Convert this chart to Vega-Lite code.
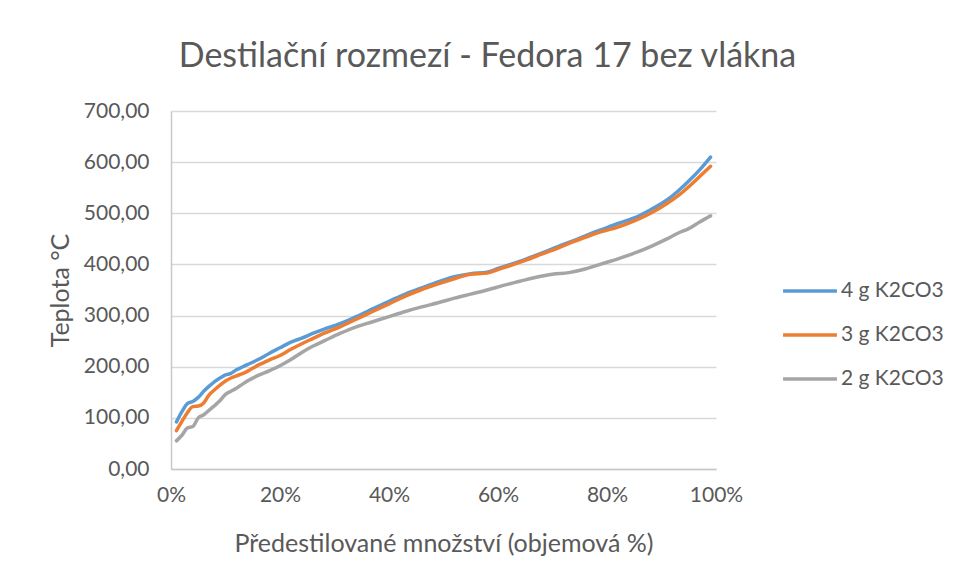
{
  "$schema": "https://vega.github.io/schema/vega-lite/v6.json",
  "autosize": {"type": "none"},
  "width": 545,
  "height": 358,
  "padding": {"left": 171, "top": 111, "right": 242, "bottom": 112},
  "background": "white",
  "title": {
    "text": "Destilační rozmezí - Fedora 17 bez vlákna",
    "font": "Lato",
    "fontSize": 34,
    "fontWeight": "normal",
    "color": "#595959",
    "anchor": "middle",
    "dx": 44,
    "offset": 26
  },
  "config": {
    "view": {"stroke": null},
    "axis": {
      "labelFont": "Lato",
      "titleFont": "Lato",
      "labelColor": "#595959",
      "titleColor": "#595959",
      "labelFontSize": 21,
      "titleFontSize": 25,
      "titleFontWeight": "normal",
      "labelFlush": false,
      "ticks": false,
      "gridColor": "#d9d9d9",
      "gridWidth": 1.5,
      "domainColor": "#c8c8c8",
      "domainWidth": 1.5
    },
    "legend": {
      "labelFont": "Lato",
      "labelFontSize": 21,
      "labelColor": "#595959"
    }
  },
  "data": {
    "values": [
      {"x": 1, "t": 92, "s": "4 g K2CO3"},
      {"x": 2, "t": 112, "s": "4 g K2CO3"},
      {"x": 3, "t": 128, "s": "4 g K2CO3"},
      {"x": 4, "t": 132, "s": "4 g K2CO3"},
      {"x": 5, "t": 140, "s": "4 g K2CO3"},
      {"x": 6, "t": 152, "s": "4 g K2CO3"},
      {"x": 7, "t": 162, "s": "4 g K2CO3"},
      {"x": 8, "t": 171, "s": "4 g K2CO3"},
      {"x": 9, "t": 178, "s": "4 g K2CO3"},
      {"x": 10, "t": 184, "s": "4 g K2CO3"},
      {"x": 11, "t": 187, "s": "4 g K2CO3"},
      {"x": 12, "t": 194, "s": "4 g K2CO3"},
      {"x": 13, "t": 199, "s": "4 g K2CO3"},
      {"x": 14, "t": 204, "s": "4 g K2CO3"},
      {"x": 16, "t": 214, "s": "4 g K2CO3"},
      {"x": 18, "t": 226, "s": "4 g K2CO3"},
      {"x": 20, "t": 237, "s": "4 g K2CO3"},
      {"x": 22, "t": 248, "s": "4 g K2CO3"},
      {"x": 24, "t": 256, "s": "4 g K2CO3"},
      {"x": 26, "t": 265, "s": "4 g K2CO3"},
      {"x": 28, "t": 273, "s": "4 g K2CO3"},
      {"x": 31, "t": 284, "s": "4 g K2CO3"},
      {"x": 34, "t": 298, "s": "4 g K2CO3"},
      {"x": 37, "t": 313, "s": "4 g K2CO3"},
      {"x": 40, "t": 328, "s": "4 g K2CO3"},
      {"x": 43, "t": 342, "s": "4 g K2CO3"},
      {"x": 46, "t": 354, "s": "4 g K2CO3"},
      {"x": 49, "t": 366, "s": "4 g K2CO3"},
      {"x": 52, "t": 376, "s": "4 g K2CO3"},
      {"x": 55, "t": 382, "s": "4 g K2CO3"},
      {"x": 58, "t": 385, "s": "4 g K2CO3"},
      {"x": 60, "t": 392, "s": "4 g K2CO3"},
      {"x": 62, "t": 399, "s": "4 g K2CO3"},
      {"x": 65, "t": 410, "s": "4 g K2CO3"},
      {"x": 68, "t": 422, "s": "4 g K2CO3"},
      {"x": 71, "t": 435, "s": "4 g K2CO3"},
      {"x": 74, "t": 447, "s": "4 g K2CO3"},
      {"x": 77, "t": 460, "s": "4 g K2CO3"},
      {"x": 79, "t": 468, "s": "4 g K2CO3"},
      {"x": 82, "t": 480, "s": "4 g K2CO3"},
      {"x": 85, "t": 491, "s": "4 g K2CO3"},
      {"x": 88, "t": 507, "s": "4 g K2CO3"},
      {"x": 91, "t": 526, "s": "4 g K2CO3"},
      {"x": 93, "t": 543, "s": "4 g K2CO3"},
      {"x": 95, "t": 563, "s": "4 g K2CO3"},
      {"x": 97, "t": 585, "s": "4 g K2CO3"},
      {"x": 99, "t": 610, "s": "4 g K2CO3"},
      {"x": 1, "t": 75, "s": "3 g K2CO3"},
      {"x": 2, "t": 93, "s": "3 g K2CO3"},
      {"x": 3, "t": 110, "s": "3 g K2CO3"},
      {"x": 4, "t": 122, "s": "3 g K2CO3"},
      {"x": 5, "t": 123, "s": "3 g K2CO3"},
      {"x": 6, "t": 129, "s": "3 g K2CO3"},
      {"x": 7, "t": 145, "s": "3 g K2CO3"},
      {"x": 8, "t": 155, "s": "3 g K2CO3"},
      {"x": 9, "t": 164, "s": "3 g K2CO3"},
      {"x": 10, "t": 172, "s": "3 g K2CO3"},
      {"x": 11, "t": 178, "s": "3 g K2CO3"},
      {"x": 12, "t": 182, "s": "3 g K2CO3"},
      {"x": 13, "t": 186, "s": "3 g K2CO3"},
      {"x": 14, "t": 191, "s": "3 g K2CO3"},
      {"x": 16, "t": 203, "s": "3 g K2CO3"},
      {"x": 18, "t": 213, "s": "3 g K2CO3"},
      {"x": 20, "t": 222, "s": "3 g K2CO3"},
      {"x": 22, "t": 234, "s": "3 g K2CO3"},
      {"x": 24, "t": 245, "s": "3 g K2CO3"},
      {"x": 26, "t": 255, "s": "3 g K2CO3"},
      {"x": 28, "t": 265, "s": "3 g K2CO3"},
      {"x": 31, "t": 278, "s": "3 g K2CO3"},
      {"x": 34, "t": 293, "s": "3 g K2CO3"},
      {"x": 37, "t": 308, "s": "3 g K2CO3"},
      {"x": 40, "t": 323, "s": "3 g K2CO3"},
      {"x": 43, "t": 338, "s": "3 g K2CO3"},
      {"x": 46, "t": 351, "s": "3 g K2CO3"},
      {"x": 49, "t": 362, "s": "3 g K2CO3"},
      {"x": 52, "t": 372, "s": "3 g K2CO3"},
      {"x": 55, "t": 381, "s": "3 g K2CO3"},
      {"x": 58, "t": 383, "s": "3 g K2CO3"},
      {"x": 60, "t": 390, "s": "3 g K2CO3"},
      {"x": 62, "t": 397, "s": "3 g K2CO3"},
      {"x": 65, "t": 408, "s": "3 g K2CO3"},
      {"x": 68, "t": 420, "s": "3 g K2CO3"},
      {"x": 71, "t": 432, "s": "3 g K2CO3"},
      {"x": 74, "t": 445, "s": "3 g K2CO3"},
      {"x": 77, "t": 457, "s": "3 g K2CO3"},
      {"x": 79, "t": 464, "s": "3 g K2CO3"},
      {"x": 82, "t": 473, "s": "3 g K2CO3"},
      {"x": 85, "t": 485, "s": "3 g K2CO3"},
      {"x": 88, "t": 500, "s": "3 g K2CO3"},
      {"x": 91, "t": 519, "s": "3 g K2CO3"},
      {"x": 93, "t": 534, "s": "3 g K2CO3"},
      {"x": 95, "t": 552, "s": "3 g K2CO3"},
      {"x": 97, "t": 572, "s": "3 g K2CO3"},
      {"x": 99, "t": 592, "s": "3 g K2CO3"},
      {"x": 1, "t": 55, "s": "2 g K2CO3"},
      {"x": 2, "t": 66, "s": "2 g K2CO3"},
      {"x": 3, "t": 80, "s": "2 g K2CO3"},
      {"x": 4, "t": 83, "s": "2 g K2CO3"},
      {"x": 5, "t": 100, "s": "2 g K2CO3"},
      {"x": 6, "t": 106, "s": "2 g K2CO3"},
      {"x": 7, "t": 115, "s": "2 g K2CO3"},
      {"x": 8, "t": 124, "s": "2 g K2CO3"},
      {"x": 9, "t": 134, "s": "2 g K2CO3"},
      {"x": 10, "t": 146, "s": "2 g K2CO3"},
      {"x": 11, "t": 152, "s": "2 g K2CO3"},
      {"x": 12, "t": 158, "s": "2 g K2CO3"},
      {"x": 13, "t": 165, "s": "2 g K2CO3"},
      {"x": 14, "t": 172, "s": "2 g K2CO3"},
      {"x": 16, "t": 183, "s": "2 g K2CO3"},
      {"x": 18, "t": 192, "s": "2 g K2CO3"},
      {"x": 20, "t": 202, "s": "2 g K2CO3"},
      {"x": 22, "t": 214, "s": "2 g K2CO3"},
      {"x": 24, "t": 228, "s": "2 g K2CO3"},
      {"x": 26, "t": 240, "s": "2 g K2CO3"},
      {"x": 28, "t": 250, "s": "2 g K2CO3"},
      {"x": 31, "t": 265, "s": "2 g K2CO3"},
      {"x": 34, "t": 278, "s": "2 g K2CO3"},
      {"x": 37, "t": 288, "s": "2 g K2CO3"},
      {"x": 40, "t": 298, "s": "2 g K2CO3"},
      {"x": 43, "t": 308, "s": "2 g K2CO3"},
      {"x": 46, "t": 317, "s": "2 g K2CO3"},
      {"x": 49, "t": 325, "s": "2 g K2CO3"},
      {"x": 52, "t": 334, "s": "2 g K2CO3"},
      {"x": 55, "t": 342, "s": "2 g K2CO3"},
      {"x": 58, "t": 350, "s": "2 g K2CO3"},
      {"x": 61, "t": 359, "s": "2 g K2CO3"},
      {"x": 64, "t": 367, "s": "2 g K2CO3"},
      {"x": 67, "t": 375, "s": "2 g K2CO3"},
      {"x": 70, "t": 381, "s": "2 g K2CO3"},
      {"x": 73, "t": 384, "s": "2 g K2CO3"},
      {"x": 76, "t": 391, "s": "2 g K2CO3"},
      {"x": 79, "t": 401, "s": "2 g K2CO3"},
      {"x": 82, "t": 411, "s": "2 g K2CO3"},
      {"x": 85, "t": 422, "s": "2 g K2CO3"},
      {"x": 88, "t": 435, "s": "2 g K2CO3"},
      {"x": 91, "t": 450, "s": "2 g K2CO3"},
      {"x": 93, "t": 461, "s": "2 g K2CO3"},
      {"x": 95, "t": 470, "s": "2 g K2CO3"},
      {"x": 97, "t": 483, "s": "2 g K2CO3"},
      {"x": 99, "t": 495, "s": "2 g K2CO3"}
    ]
  },
  "mark": {"type": "line", "strokeWidth": 3.5, "interpolate": "monotone", "strokeCap": "round"},
  "encoding": {
    "x": {
      "field": "x",
      "type": "quantitative",
      "scale": {"domain": [0, 100], "nice": false},
      "axis": {
        "values": [0, 20, 40, 60, 80, 100],
        "labelExpr": "datum.value + '%'",
        "grid": false,
        "labelPadding": 15,
        "title": "Předestilované množství (objemová %)",
        "titlePadding": 26
      }
    },
    "y": {
      "field": "t",
      "type": "quantitative",
      "scale": {"domain": [0, 700], "nice": false},
      "axis": {
        "values": [0, 100, 200, 300, 400, 500, 600, 700],
        "labelExpr": "replace(format(datum.value, '.2f'), '.', ',')",
        "labelPadding": 22,
        "title": "Teplota °C",
        "titlePadding": 10
      }
    },
    "color": {
      "field": "s",
      "type": "nominal",
      "sort": ["4 g K2CO3", "3 g K2CO3", "2 g K2CO3"],
      "scale": {"domain": ["4 g K2CO3", "3 g K2CO3", "2 g K2CO3"], "range": ["#5b9bd5", "#ed7d31", "#a5a5a5"]},
      "legend": {
        "title": null,
        "orient": "none",
        "legendX": 610,
        "legendY": 151,
        "symbolType": "stroke",
        "symbolSize": 2900,
        "symbolStrokeWidth": 3.5,
        "rowPadding": 5,
        "labelOffset": 2
      }
    }
  }
}
